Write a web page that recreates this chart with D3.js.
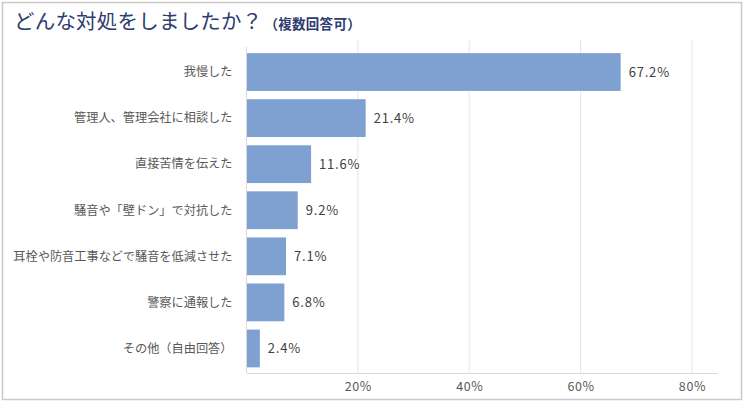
<!DOCTYPE html>
<html>
<head>
<meta charset="utf-8">
<script src="https://cdn.jsdelivr.net/npm/d3@7"></script>
<style>
  body { margin: 0; background: #fff; }
  text { font-family: "Noto Sans CJK JP", "Noto Sans", sans-serif; }
</style>
</head>
<body>
<div id="chart"></div>
<script>
const categories = [
  "我慢した",
  "管理人、管理会社に相談した",
  "直接苦情を伝えた",
  "騒音や「壁ドン」で対抗した",
  "耳栓や防音工事などで騒音を低減させた",
  "警察に通報した",
  "その他（自由回答）"
];
const values = [67.2, 21.4, 11.6, 9.2, 7.1, 6.8, 2.4];
const tickValues = [20, 40, 60, 80];

const W = 744, H = 402;
const margin = {top: 49, right: 27, bottom: 30, left: 246.5};

const svg = d3.select("#chart")
  .append("svg")
  .attr("width", W)
  .attr("height", H);

// outer frame
svg.append("rect")
  .attr("x", 2.5).attr("y", 2.5)
  .attr("width", W - 5).attr("height", H - 5)
  .attr("fill", "#fff")
  .attr("stroke", "#c9c9c9")
  .attr("stroke-width", 1.5);

// title
const title = svg.append("text")
  .attr("x", 14).attr("y", 29)
  .attr("fill", "#2e3c70");
title.append("tspan").attr("font-size", 20.5).attr("letter-spacing", 0.2).text("どんな対処をしましたか？");
title.append("tspan").attr("font-size", 13.5).attr("font-weight", "bold").attr("letter-spacing", 0.3).attr("dx", 2).text("（複数回答可）");

const x = d3.scaleLinear()
  .domain([0, 84.5])
  .range([margin.left, W - margin.right]);

const y = d3.scaleBand()
  .domain(categories)
  .range([margin.top, H - margin.bottom - 0.5])
  .paddingInner(0.18)
  .paddingOuter(0.09);

const axisY = H - margin.bottom + 1;

// gridlines
svg.append("g")
  .selectAll("line")
  .data(tickValues)
  .join("line")
  .attr("x1", d => x(d)).attr("x2", d => x(d))
  .attr("y1", 40).attr("y2", axisY)
  .attr("stroke", "#e6e6e6")
  .attr("stroke-width", 1);

// bars
svg.append("g")
  .selectAll("rect")
  .data(values)
  .join("rect")
  .attr("x", x(0))
  .attr("y", (d, i) => y(categories[i]))
  .attr("width", d => x(d) - x(0))
  .attr("height", y.bandwidth())
  .attr("fill", "#7ea1d1");

// left axis line
svg.append("line")
  .attr("x1", x(0)).attr("x2", x(0))
  .attr("y1", margin.top - 2).attr("y2", axisY)
  .attr("stroke", "#d9d9d9");

// bottom axis
const xAxis = svg.append("g")
  .attr("transform", `translate(0,${axisY})`)
  .call(d3.axisBottom(x).tickValues(tickValues).tickSize(0).tickPadding(9).tickFormat(d => d + "%"));
xAxis.select(".domain").attr("stroke", "#d9d9d9");
xAxis.selectAll("text").attr("font-size", 12.5).attr("letter-spacing", 0.6).attr("fill", "#595959");

// category labels
svg.append("g")
  .selectAll("text")
  .data(categories)
  .join("text")
  .attr("x", margin.left - 14)
  .attr("y", d => y(d) + y.bandwidth() / 2)
  .attr("dy", "0.35em")
  .attr("text-anchor", "end")
  .attr("font-size", 12.2)
  .attr("fill", "#595959")
  .text(d => d);

// value labels
svg.append("g")
  .selectAll("text")
  .data(values)
  .join("text")
  .attr("x", d => x(d) + 8)
  .attr("y", (d, i) => y(categories[i]) + y.bandwidth() / 2)
  .attr("dy", "0.35em")
  .attr("font-size", 13)
  .attr("letter-spacing", 0.8)
  .attr("fill", "#404040")
  .text(d => d.toFixed(1) + "%");
</script>
</body>
</html>
